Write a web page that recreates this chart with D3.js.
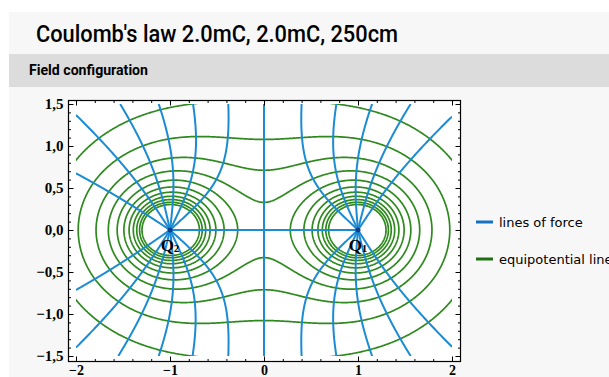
<!DOCTYPE html>
<html><head><meta charset="utf-8">
<script src="https://cdn.jsdelivr.net/npm/d3@7"></script>
<style>body{margin:0;background:#fff;overflow:hidden} svg{display:block}</style>
</head><body>
<svg id="c" width="609" height="377"></svg>
<script>
// ---- data ----
const chartTitle = "Coulomb's law 2.0mC, 2.0mC, 250cm";
const panelTitle = "Field configuration";
const chargeNames = ["Q1", "Q2"];
const chargeX = [1, -1];
const chargeY = [0, 0];
const chargeQ = [2.0, 2.0];           // mC
// equipotential levels (potential ~ sum q/r)
const potentialLevels = [2.18, 2.72, 3.26, 3.80, 4.34, 4.88, 5.42, 5.96, 6.50, 7.04, 7.58];
// lines of force seeded at a charge (start angle in degrees from +x)
const q1Angles = [180];
const q2Angles = [0];
// line of force seeded at the saddle point (x = 0)
const saddleSeedY = [0.001, -0.001];
// where the other lines of force leave the plot range
const exitTopX = [-1.53, -1.12, -0.755, -0.38, 0.40, 0.77, 1.15, 1.56];      // at y = 1.5
const exitBottomX = [-1.55, -1.12, -0.76, -0.38, 0.40, 0.77, 1.15, 1.56];    // at y = -1.5
const exitLeftY = [1.37, 0.675, -0.714, -1.40];                               // at x = -2
const exitRightY = [1.35, -1.39];                                             // at x = 2
const xTickValues = [-2, -1, 0, 1, 2];
const xTickLabels = ["\u22122", "\u22121", "0", "1", "2"];
const yTickValues = [-1.5, -1, -0.5, 0, 0.5, 1, 1.5];
const yTickLabels = ["\u22121,5", "\u22121,0", "\u22120,5", "0,0", "0,5", "1,0", "1,5"];
const legendLabels = ["lines of force", "equipotential lines"];

// ---- styles / layout ----
const BLUE = "#1b8bd3", GREEN = "#2e8a1e";
const svg = d3.select("#c");
const xScale = d3.scaleLinear().domain([-2, 2]).range([76, 452]);
const yScale = d3.scaleLinear().domain([-1.5, 1.5]).range([356, 104]);
const frame = {x0: 68, y0: 100, x1: 460, y1: 361};

// backgrounds
svg.append("rect").attr("x", 9).attr("y", 12).attr("width", 600).attr("height", 365).attr("fill", "#f7f7f7");
svg.append("rect").attr("x", 9).attr("y", 54).attr("width", 600).attr("height", 33).attr("fill", "#dcdcdc");
svg.append("text").attr("x", 36).attr("y", 42).text(chartTitle)
  .attr("font-family", "Roboto").attr("font-weight", 500).attr("font-size", 24)
  .attr("textLength", 362).attr("lengthAdjust", "spacingAndGlyphs").attr("fill", "#000");
svg.append("text").attr("x", 29).attr("y", 75).text(panelTitle)
  .attr("font-family", "Roboto").attr("font-weight", 700).attr("font-size", 15)
  .attr("textLength", 119).attr("lengthAdjust", "spacingAndGlyphs").attr("fill", "#000");

svg.append("rect").attr("x", frame.x0).attr("y", frame.y0)
  .attr("width", frame.x1 - frame.x0).attr("height", frame.y1 - frame.y0).attr("fill", "#fff");

// clip to plot range
svg.append("clipPath").attr("id", "pr").append("rect")
  .attr("x", xScale(-2)).attr("y", yScale(1.5))
  .attr("width", xScale(2) - xScale(-2)).attr("height", yScale(-1.5) - yScale(1.5));

// ---- physics ----
function potential(x, y) {
  let v = 0;
  for (let i = 0; i < chargeX.length; i++) {
    const r = Math.max(1e-4, Math.hypot(x - chargeX[i], y - chargeY[i]));
    v += chargeQ[i] / r;
  }
  return Math.min(v, 1e4);
}
function dir(x, y, sgn) {
  let ex = 0, ey = 0;
  for (let i = 0; i < chargeX.length; i++) {
    const dx = x - chargeX[i], dy = y - chargeY[i];
    const r = Math.hypot(dx, dy);
    if (r < 1e-6) return null;
    const r3 = r * r * r;
    ex += chargeQ[i] * dx / r3; ey += chargeQ[i] * dy / r3;
  }
  const m = Math.hypot(ex, ey);
  if (m < 1e-12) return null;
  return [sgn * ex / m, sgn * ey / m];
}
// sgn = +1 follows the field, -1 goes against it (back to a source charge)
function trace(x, y, skip, sgn) {
  const pts = [[x, y]];
  const h = 0.004;
  let prev = null;
  for (let s = 0; s < 4000; s++) {
    const k1 = dir(x, y, sgn); if (!k1) break;
    if (prev && k1[0] * prev[0] + k1[1] * prev[1] < 0) break;
    const k2 = dir(x + h / 2 * k1[0], y + h / 2 * k1[1], sgn); if (!k2) break;
    const k3 = dir(x + h / 2 * k2[0], y + h / 2 * k2[1], sgn); if (!k3) break;
    const k4 = dir(x + h * k3[0], y + h * k3[1], sgn); if (!k4) break;
    x += h / 6 * (k1[0] + 2 * k2[0] + 2 * k3[0] + k4[0]);
    y += h / 6 * (k1[1] + 2 * k2[1] + 2 * k3[1] + k4[1]);
    pts.push([x, y]); prev = k1;
    if (x < -2.05 || x > 2.05 || y < -1.55 || y > 1.55) break;
    let hit = -1;
    for (let i = 0; i < chargeX.length; i++) {
      if (i !== skip && Math.hypot(x - chargeX[i], y - chargeY[i]) < 0.008) hit = i;
    }
    if (hit >= 0) { pts.push([chargeX[hit], chargeY[hit]]); break; }
  }
  return pts;
}

// ---- equipotential lines ----
const gx0 = -2.3, gy0 = -1.8, gd = 0.01;
const nx = Math.round(4.6 / gd) + 1, ny = Math.round(3.6 / gd) + 1;
const vals = new Float64Array(nx * ny);
for (let j = 0; j < ny; j++) for (let i = 0; i < nx; i++) vals[j * nx + i] = potential(gx0 + i * gd, gy0 + j * gd);
const contours = d3.contours().size([nx, ny]).thresholds(potentialLevels)(vals);
const proj = d3.geoTransform({
  point: function (cx, cy) {
    this.stream.point(xScale(gx0 + (cx - 0.5) * gd), yScale(gy0 + (cy - 0.5) * gd));
  }
});
const gEq = svg.append("g").attr("clip-path", "url(#pr)");
gEq.selectAll("path").data(contours).join("path")
  .attr("d", d3.geoPath(proj)).attr("fill", "none")
  .attr("stroke", GREEN).attr("stroke-width", 1.7);

// ---- lines of force ----
const lines = [];
const angleSets = [q1Angles, q2Angles];
for (let i = 0; i < chargeX.length; i++) {
  angleSets[i].forEach(a => {
    const t = a * Math.PI / 180;
    lines.push(trace(chargeX[i] + 0.003 * Math.cos(t), chargeY[i] + 0.003 * Math.sin(t), i, 1));
  });
}
saddleSeedY.forEach(y => lines.push(trace(0, y, -1, 1)));
exitTopX.forEach(x => lines.push(trace(x, 1.5, -1, -1)));
exitBottomX.forEach(x => lines.push(trace(x, -1.5, -1, -1)));
exitLeftY.forEach(y => lines.push(trace(-2, y, -1, -1)));
exitRightY.forEach(y => lines.push(trace(2, y, -1, -1)));

const lineGen = d3.line().x(d => xScale(d[0])).y(d => yScale(d[1]));
const gF = svg.append("g").attr("clip-path", "url(#pr)");
gF.selectAll("path").data(lines).join("path")
  .attr("d", lineGen).attr("fill", "none")
  .attr("stroke", BLUE).attr("stroke-width", 2);
gF.selectAll("circle").data(chargeX).join("circle")
  .attr("cx", d => xScale(d)).attr("cy", (d, i) => yScale(chargeY[i])).attr("r", 2.5).attr("fill", "#0d3f8f");

// charge labels
chargeNames.forEach((n, i) => {
  const t = svg.append("text").attr("x", xScale(chargeX[i])).attr("y", yScale(chargeY[i]) + 21)
    .attr("text-anchor", "middle").attr("font-family", "Liberation Serif").attr("font-weight", 700)
    .attr("font-size", 17).attr("fill", "#000");
  t.append("tspan").text(n[0]);
  t.append("tspan").text(n.slice(1)).attr("font-size", 11).attr("dy", 1);
});

// ---- frame & ticks ----
svg.append("rect").attr("x", frame.x0 + 0.5).attr("y", frame.y0 + 0.5)
  .attr("width", frame.x1 - frame.x0).attr("height", frame.y1 - frame.y0)
  .attr("fill", "none").attr("stroke", "#000").attr("stroke-width", 1.2);

const xMinor = d3.range(-2, 2.001, 0.2).map(v => +v.toFixed(2));
const yMinor = d3.range(-1.5, 1.501, 0.1).map(v => +v.toFixed(2));
function styleAxis(g, labels) {
  g.select(".domain").remove();
  g.selectAll(".tick line").attr("stroke", "#000").attr("stroke-width", 1);
  if (!labels) g.selectAll(".tick text").remove();
  else g.selectAll(".tick text").attr("font-family", "Liberation Serif").attr("font-weight", 700)
    .attr("font-size", 15).attr("fill", "#000");
}
const yl = i => yTickLabels[yTickValues.indexOf(i)];
const xl = i => xTickLabels[xTickValues.indexOf(i)];
// left
svg.append("g").attr("transform", `translate(${frame.x0 + 0.5},0)`)
  .call(d3.axisLeft(yScale).tickValues(yMinor).tickSize(-2.5)).call(g => styleAxis(g, false));
svg.append("g").attr("transform", `translate(${frame.x0 + 0.5},0)`)
  .call(d3.axisLeft(yScale).tickValues(yTickValues).tickSize(-5).tickPadding(5).tickFormat(yl)).call(g => styleAxis(g, true));
// right
svg.append("g").attr("transform", `translate(${frame.x1 + 0.5},0)`)
  .call(d3.axisRight(yScale).tickValues(yMinor).tickSize(-2.5)).call(g => styleAxis(g, false));
svg.append("g").attr("transform", `translate(${frame.x1 + 0.5},0)`)
  .call(d3.axisRight(yScale).tickValues(yTickValues).tickSize(-5)).call(g => styleAxis(g, false));
// bottom
svg.append("g").attr("transform", `translate(0,${frame.y1 + 0.5})`)
  .call(d3.axisBottom(xScale).tickValues(xMinor).tickSize(-2.5)).call(g => styleAxis(g, false));
const gxb = svg.append("g").attr("transform", `translate(0,${frame.y1 + 0.5})`)
  .call(d3.axisBottom(xScale).tickValues(xTickValues).tickSize(-5).tickPadding(4).tickFormat(xl)).call(g => styleAxis(g, true));
gxb.selectAll(".tick text").attr("font-size", 14);
// top
svg.append("g").attr("transform", `translate(0,${frame.y0 + 0.5})`)
  .call(d3.axisTop(xScale).tickValues(xMinor).tickSize(-2.5)).call(g => styleAxis(g, false));
svg.append("g").attr("transform", `translate(0,${frame.y0 + 0.5})`)
  .call(d3.axisTop(xScale).tickValues(xTickValues).tickSize(-5)).call(g => styleAxis(g, false));

// ---- legend ----
const legY = [222, 259];
legendLabels.forEach((t, i) => {
  svg.append("line").attr("x1", 476).attr("x2", 493).attr("y1", legY[i]).attr("y2", legY[i])
    .attr("stroke", i === 0 ? "#1470c0" : "#1f6e12").attr("stroke-width", 3);
  svg.append("text").attr("x", 499).attr("y", legY[i] + 5).text(t)
    .attr("font-family", "DejaVu Sans").attr("font-size", 13).attr("fill", "#000");
});
</script>
</body></html>
